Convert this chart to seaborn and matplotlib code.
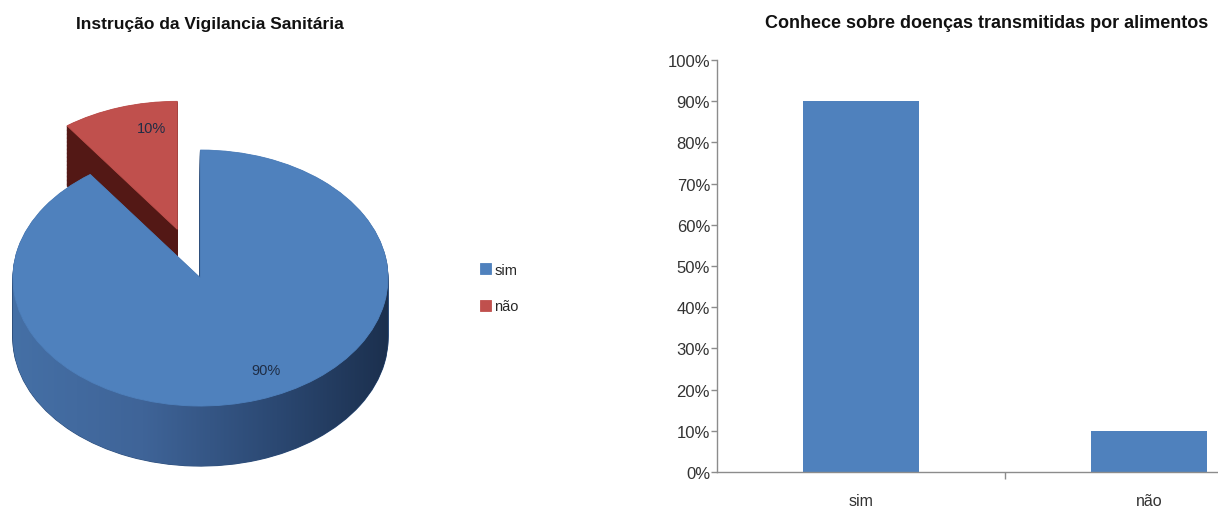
import numpy as np
import pandas as pd
import matplotlib
matplotlib.use('Agg')
import matplotlib.pyplot as plt
import seaborn as sns
from matplotlib.path import Path
from matplotlib.patches import PathPatch
from matplotlib.colors import LinearSegmentedColormap
from matplotlib.ticker import PercentFormatter, FixedLocator

# ---------------- data ----------------
pie_title = 'Instrução da Vigilancia Sanitária'
pie_labels = ['sim', 'não']
pie_values = [90, 10]

bar_title = 'Conhece sobre doenças transmitidas por alimentos'
bar_categories = ['sim', 'não']
bar_values = [0.90, 0.10]
y_ticks = [0.0, 0.1, 0.2, 0.3, 0.4, 0.5, 0.6, 0.7, 0.8, 0.9, 1.0]

# ---------------- style ----------------
sns.set_theme(style='white')
FONT = ['Liberation Sans Narrow', 'Liberation Sans', 'DejaVu Sans']
plt.rcParams['font.family'] = FONT

TOP_COLORS = ['#4F81BD', '#C0504D']
SIDE_COLORS = ['#2E4F7C', '#531815']

fig = plt.figure(figsize=(12.18, 5.10), dpi=100)

# ---------------- 3D-looking pie ----------------
axp = fig.add_axes([0.0, 0.0294, 0.353, 0.8627])
depth = 0.469
explode = [0.0, 0.4]

# side of the pie: stacked copies of the pie shifted downward
for k in np.linspace(depth, 0.005, 45):
    wl, _ = axp.pie(pie_values, startangle=90, counterclock=False,
                    explode=explode, center=(0, -k), colors=SIDE_COLORS,
                    wedgeprops=dict(linewidth=0.8))
    for w in wl:
        w.set_edgecolor(w.get_facecolor())

# shaded front band of the blue slice (horizontal gradient)
theta = np.linspace(np.pi, 2 * np.pi, 300)
top_edge = np.column_stack([np.cos(theta), np.sin(theta)])
bot_edge = np.column_stack([np.cos(theta[::-1]), np.sin(theta[::-1]) - depth])
band = PathPatch(Path(np.vstack([top_edge, bot_edge, top_edge[:1]]), closed=True),
                 transform=axp.transData, facecolor='none', edgecolor='none')
cmap = LinearSegmentedColormap.from_list(
    'side', [(0.0, '#4570A6'), (0.35, '#3F6498'), (0.7, '#2B4872'), (1.0, '#1B2F4D')])
grad = np.linspace(0, 1, 256).reshape(1, -1)
im = axp.imshow(grad, extent=[-1.02, 1.02, -1.0 - depth - 0.05, 0.05],
                aspect='auto', cmap=cmap, zorder=2, interpolation='bilinear')
im.set_clip_path(band)

# top face
wedges, texts, autotexts = axp.pie(
    pie_values, startangle=90, counterclock=False, explode=explode,
    colors=TOP_COLORS, autopct='%1.0f%%', pctdistance=0.8,
    wedgeprops=dict(linewidth=0.6),
    textprops=dict(fontsize=10.5, color='#1F2D45'))
for w in wedges:
    w.set_edgecolor(w.get_facecolor())
    w.set_zorder(3)
for t in autotexts:
    t.set_zorder(4)

# nudge labels slightly toward the reference placement (rotate along wedge)
for w, t, rot, r in zip(wedges, autotexts, [8, -8], [0.8, 0.8]):
    mid = np.deg2rad((w.theta1 + w.theta2) / 2 + rot)
    cx, cy = w.center
    t.set_position((cx + r * np.cos(mid), cy + r * np.sin(mid)))

axp.set_aspect('auto')
axp.set_xlim(-1.069, 1.224)
axp.set_ylim(-1.6875, 1.75)
axp.axis('off')

fig.legend(wedges, pie_labels, loc='upper left',
           bbox_to_anchor=(474 / 1218, 1 - 258 / 510), frameon=False,
           fontsize=10.5, handlelength=0.75, handleheight=0.75,
           handletextpad=0.25, labelspacing=1.55, borderaxespad=0)

fig.text(210 / 1218, 1 - 24 / 510, pie_title, ha='center', va='center',
         fontsize=12.5, fontweight='bold', color='#111111')

# ---------------- bar chart ----------------
axb = fig.add_axes([717 / 1218, 1 - 473 / 510, 576 / 1218, 412 / 510])
df = pd.DataFrame({'categoria': bar_categories, 'valor': bar_values})
sns.barplot(data=df, x='categoria', y='valor', color=TOP_COLORS[0],
            saturation=1, width=0.4, linewidth=0, ax=axb)
axb.set_xlim(-0.5, 1.5)
axb.set_ylim(0, 1)
axb.set_yticks(y_ticks)
axb.yaxis.set_major_formatter(PercentFormatter(1.0, decimals=0))
axb.xaxis.set_minor_locator(FixedLocator([0.5]))
axb.set_xlabel('')
axb.set_ylabel('')
for s in ['top', 'right']:
    axb.spines[s].set_visible(False)
for s in ['left', 'bottom']:
    axb.spines[s].set_color('#8C8C8C')
    axb.spines[s].set_linewidth(1.0)
axb.tick_params(axis='y', which='major', left=True, length=4, width=1,
                color='#8C8C8C', labelsize=12, labelcolor='#333333', pad=1)
axb.tick_params(axis='x', which='major', bottom=True, length=0, pad=15,
                labelsize=11.5, labelcolor='#333333')
axb.tick_params(axis='x', which='minor', bottom=True, length=5, width=1,
                color='#8C8C8C')

fig.text(987 / 1218, 1 - 24 / 510, bar_title, ha='center', va='center',
         fontsize=13, fontweight='bold', color='#111111')

fig.savefig('out.png', dpi=100)
